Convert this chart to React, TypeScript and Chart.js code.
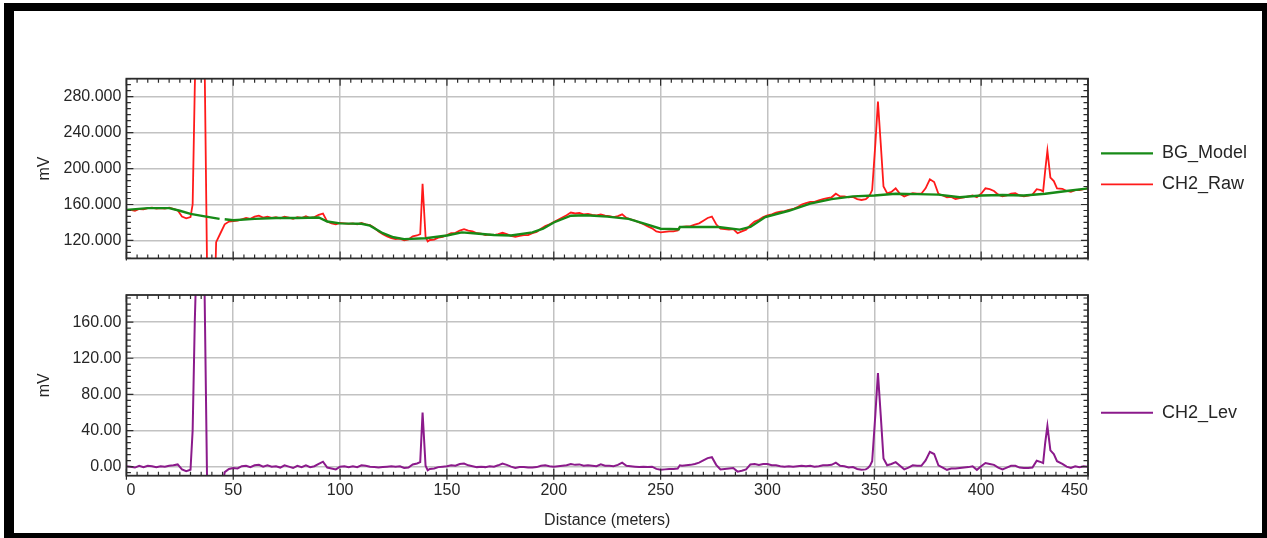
import React, { useEffect, useRef } from "react";
import { Chart, registerables } from "chart.js";

Chart.register(...registerables);

// ---------- data ----------
const DIST = [
  0, 2, 4, 6, 8, 10, 12, 14, 16, 18,
  20, 22, 24, 26, 28, 30, 31, 32, 34, 36,
  38, 40, 42, 44, 46, 48, 50, 52, 54, 56,
  58, 60, 62, 64, 66, 68, 70, 72, 74, 76,
  78, 80, 82, 84, 86, 88, 90, 92, 94, 96,
  98, 100, 102, 104, 106, 108, 110, 112, 114, 116,
  118, 120, 122, 124, 126, 128, 130, 132, 134, 136,
  137.5, 138.6, 140, 141, 142, 144, 146, 148, 150, 152,
  154, 156, 158, 160, 162, 164, 166, 168, 170, 172,
  174, 176, 178, 180, 182, 184, 186, 188, 190, 192,
  194, 196, 198, 200, 202, 204, 206, 208, 210, 212,
  214, 216, 218, 220, 222, 224, 226, 228, 230, 232,
  234, 236, 238, 240, 242, 244, 246, 248, 250, 252,
  254, 256, 258, 259, 260, 262, 264, 266, 268, 270,
  272, 274, 276, 278, 280, 282, 284, 286, 288, 290,
  292, 294, 296, 298, 300, 302, 304, 306, 308, 310,
  312, 314, 316, 318, 320, 322, 324, 326, 328, 330,
  332, 334, 336, 338, 340, 342, 344, 346, 347, 348,
  349, 350.5, 351.7, 353, 354.3, 356, 358, 360, 362, 364,
  366, 368, 370, 372, 374, 376, 378, 380, 382, 384,
  386, 388, 390, 392, 394, 396, 398, 400, 402, 404,
  406, 408, 410, 412, 414, 416, 418, 420, 422, 424,
  426, 428, 429, 430, 431, 432.4, 434, 435.5, 438, 440,
  442, 444, 446, 448, 450,
];

const CH2_RAW = [
  153.5, 154, 153, 155, 154.5, 156, 156.5, 155.5, 156, 155.5,
  156.5, 155, 153.5, 146.5, 144.5, 146, 160, 290, 480, 440,
  40, -60, 118, 128, 138, 141, 141.5, 142, 143.5, 145,
  144, 146.5, 147.5, 145.5, 146.5, 145, 146, 144.5, 146.5, 145.5,
  144, 146, 145, 147, 145, 146, 148.5, 150, 141, 139,
  138, 139.5, 139, 138.5, 139, 138, 139.5, 138, 137, 134,
  130, 127, 124.5, 122.5, 121.5, 122, 120, 121, 124.5, 125.5,
  127, 183, 124, 119, 120.5, 121, 123, 124, 126, 128,
  128.5, 131, 132.5, 131, 130, 128, 127.5, 126, 126.5, 126,
  127, 128.5, 127, 125, 124, 125, 126, 126, 128, 129.5,
  133, 136, 138, 140.5, 143, 145.5, 148, 151, 150, 150.5,
  149, 149.5, 148.5, 148, 149, 147.5, 147, 146, 147, 149,
  145, 143.5, 142, 140, 138, 135.5, 133.5, 130, 129, 129.5,
  130, 130, 131, 135, 135, 135.5, 136, 137.5, 139, 142,
  145, 146.5, 138, 133, 132.5, 132, 132.5, 128, 130, 132,
  137, 141, 143, 146, 148, 149, 151, 152, 152.5, 154,
  155, 157, 160, 161.5, 163, 163, 164.5, 166, 167, 168,
  172, 169, 169, 168, 168.5, 166, 165, 166, 168, 171,
  176, 228, 274.5, 228, 180, 172.5, 174, 178, 172, 169,
  171, 172.5, 172, 172, 178, 188, 185, 172, 170, 168,
  168.5, 166, 167, 168, 169, 170, 168, 172, 178, 177,
  175, 171, 169, 170, 172, 172.5, 170, 169, 170, 171,
  177, 176, 174.5, 198.5, 220, 190, 186, 178, 177.5, 175,
  174, 176, 176, 177, 178,
];

const CH2_LEV = [
  0.5, 0, -1, 1, -0.5, 1, 0.5, -0.5, 0.5, 0,
  1, 1.5, 2.5, -3, -5, -3.5, 40, 160, 330, 300,
  -60, -150, -100, -40, -6, -2.5, -1.5, -2, 0.5, 1,
  -0.5, 1.5, 2, 0, 1.5, 0, 0.5, -1, 1.5, 0,
  -1.5, 1, -0.5, 1.5, -0.5, 0.5, 3, 5.5, -1, -2,
  -3, 0, 0.5, -0.5, 0.5, -0.5, 1.5, 1, 0, -0.5,
  -1, -0.5, 0, 0.5, 0, 0.5, -1.5, -1, 2.5, 3.5,
  5, 60, 1, -4, -2.5, -2, -0.5, 0, 0.5, 1.5,
  1, 3, 3.5, 1.5, 0.5, -0.5, 0, -0.5, 0.5, 0,
  1.5, 3.5, 2, 0, -1.5, -0.5, -0.5, -1, -1, -0.5,
  1, 1.5, 0.5, 0, 0.5, 1, 1.5, 3, 2, 2.5,
  1, 1.5, 1, 0.5, 2.5, 1, 1, 0.5, 2, 4.5,
  1, 0.5, 0, -0.5, 0, -0.5, 0, -2.5, -3.5, -3,
  -2.5, -2.5, -2, 1.5, 1, 1.5, 2, 3, 4.5, 7,
  9.5, 10.5, 2, -3, -2.5, -2, -1.5, -5.5, -4.5, -3,
  2.5, 3, 2, 3, 3, 1.5, 1.5, 0.5, 0, 0.5,
  0, 0.5, 1, 0.5, 1, 0, 0.5, 1.5, 1.5, 2,
  4.5, 1, 0.5, -1, -0.5, -2.5, -3.5, -3, -1.5, 1,
  6, 58, 103.5, 57, 9, 1.5, 3, 5, 1, -3,
  -1, 1.5, 1, 1, 7, 16.5, 14, 1.5, -1, -3.5,
  -2, -2, -1.5, -1, -0.5, 0.5, -3.5, 0.5, 4, 3,
  2, -1, -3, -1, 1, 1, -1, -1.5, -1.5, -1,
  6.5, 5, 4, 27, 45, 18, 14, 6, 3, 0,
  -1.5, 0.5, -0.5, 0.5, 0,
];

const BG_DIST = [
  0, 10, 20, 25, 30, 36, 43.6, 44.8, 46, 50,
  60, 70, 80, 90, 94, 100, 110, 114, 120, 125,
  130, 140, 150, 157, 165, 172, 180, 190, 195, 200,
  208, 215, 225, 235, 242, 250, 258.5, 259, 277, 287,
  292, 299, 310, 320, 330, 340, 350, 360, 370, 380,
  390, 400, 410, 420, 430, 440, 450,
];

const BG_MODEL = [
  154, 156, 156, 153, 149.5, 147, 144, null, 143.5, 142.5,
  144, 145, 145, 145.5, 141, 139, 138.5, 136.5, 128, 123.5,
  121.5, 122.5, 125.5, 129, 127.5, 126, 125.5, 129, 133, 140,
  147.5, 148, 146.5, 144, 139, 133, 132.5, 135, 135, 132,
  135, 146, 153, 161, 166, 169, 170, 172, 171.5, 171,
  168, 170, 170.5, 170, 172, 175, 178,
];

const X_TICKS = [0, 50, 100, 150, 200, 250, 300, 350, 400, 450];
const TOP_Y_TICKS = [120, 160, 200, 240, 280];
const BOT_Y_TICKS = [0, 40, 80, 120, 160];

// ---------- styles ----------
const FONT = "'Liberation Sans', Arial, Helvetica, sans-serif";
const TEXT = "#262626";
const GRID = "#c2c2c2";
const FRAME = "#2b2b2b";
const GREEN = "#178a17";
const RED = "#ff1a1a";
const PURPLE = "#8b1a8b";
const LEGEND_W = 174;
const Y_WIDTH = 91.4;

const pairs = (xs: number[], ys: (number | null)[]) =>
  xs.map((x, i) => ({ x, y: ys[i] }));

// fixes the legend box width so both charts share the same plot width
const fixedLegend = {
  id: "fixedLegend",
  beforeLayout(chart: any) {
    const lg = chart.legend;
    if (lg && !lg.__fixed) {
      const orig = lg.fit.bind(lg);
      lg.fit = function () {
        orig();
        this.width = LEGEND_W;
      };
      lg.__fixed = true;
    }
  },
};

const frameTicks = {
  id: "frameTicks",
  afterDraw(chart: any, _args: any, opts: any) {
    const { ctx, chartArea: a, scales } = chart;
    const xs = scales.x;
    const ys = scales.y;
    ctx.save();
    ctx.strokeStyle = FRAME;
    ctx.lineWidth = 1.2;
    ctx.beginPath();
    const xStep = opts.xStep;
    for (let k = 0; xs.min + k * xStep <= xs.max + 1e-6; k++) {
      const v = xs.min + k * xStep;
      const px = xs.getPixelForValue(v);
      const major = k % opts.xSub === 0;
      const len = major ? 7 : 4;
      ctx.moveTo(px, a.bottom + (major ? opts.outward : 0));
      ctx.lineTo(px, a.bottom - len);
      ctx.moveTo(px, a.top);
      ctx.lineTo(px, a.top + len);
    }
    const yStep = opts.yMajor / opts.ySub;
    const kStart = Math.ceil((ys.min - opts.yBase) / yStep - 1e-6);
    for (let k = kStart; opts.yBase + k * yStep <= ys.max + 1e-6; k++) {
      const v = opts.yBase + k * yStep;
      const py = ys.getPixelForValue(v);
      const major = ((k % opts.ySub) + opts.ySub) % opts.ySub === 0;
      const len = major ? 7 : 4.5;
      ctx.moveTo(a.left, py);
      ctx.lineTo(a.left + len, py);
      ctx.moveTo(a.right, py);
      ctx.lineTo(a.right - len, py);
    }
    ctx.stroke();
    ctx.lineWidth = 1.8;
    ctx.strokeRect(a.left, a.top, a.right - a.left, a.bottom - a.top);
    ctx.restore();
  },
};

const legendOpts = {
  position: "right" as const,
  labels: {
    usePointStyle: true,
    pointStyle: "line",
    pointStyleWidth: 52,
    padding: 13,
    color: TEXT,
    font: { family: FONT, size: 18 },
  },
};

const yTitle = {
  display: true,
  text: "mV",
  color: TEXT,
  font: { family: FONT, size: 16 },
  padding: { top: 0, bottom: 0 },
};

const gridOpts = { color: GRID, lineWidth: 1.5, drawTicks: false };

function topConfig(): any {
  return {
    type: "line",
    data: {
      datasets: [
        {
          label: "BG_Model",
          data: pairs(BG_DIST, BG_MODEL),
          borderColor: GREEN,
          backgroundColor: GREEN,
          borderWidth: 2.4,
          pointRadius: 0,
          spanGaps: false,
          tension: 0,
        },
        {
          label: "CH2_Raw",
          data: pairs(DIST, CH2_RAW),
          borderColor: RED,
          backgroundColor: RED,
          borderWidth: 1.8,
          pointRadius: 0,
          tension: 0,
        },
      ],
    },
    options: {
      responsive: false,
      animation: false,
      events: [],
      layout: { padding: { left: 21, top: 67.7, right: 0, bottom: 14 } },
      scales: {
        x: {
          type: "linear",
          min: 0,
          max: 450,
          afterBuildTicks: (s: any) => {
            s.ticks = X_TICKS.map((v) => ({ value: v }));
          },
          afterFit: (s: any) => {
            s.height = 0;
          },
          ticks: { display: false },
          grid: gridOpts,
          border: { display: false },
        },
        y: {
          type: "linear",
          min: 100,
          max: 300,
          afterBuildTicks: (s: any) => {
            s.ticks = TOP_Y_TICKS.map((v) => ({ value: v }));
          },
          afterFit: (s: any) => {
            s.width = Y_WIDTH;
          },
          ticks: {
            callback: (v: any) => Number(v).toFixed(3),
            color: TEXT,
            font: { family: FONT, size: 16 },
            padding: 5,
          },
          grid: gridOpts,
          border: { display: false },
          title: yTitle,
        },
      },
      plugins: {
        legend: legendOpts,
        tooltip: { enabled: false },
        frameTicks: { xStep: 5, xSub: 10, yBase: 120, yMajor: 40, ySub: 6, outward: 2 },
      },
    },
    plugins: [fixedLegend, frameTicks],
  };
}

function bottomConfig(): any {
  return {
    type: "line",
    data: {
      datasets: [
        {
          label: "CH2_Lev",
          data: pairs(DIST, CH2_LEV),
          borderColor: PURPLE,
          backgroundColor: PURPLE,
          borderWidth: 2,
          pointRadius: 0,
          tension: 0,
        },
      ],
    },
    options: {
      responsive: false,
      animation: false,
      events: [],
      layout: { padding: { left: 21, top: 20, right: 0, bottom: 2.3 } },
      scales: {
        x: {
          type: "linear",
          min: 0,
          max: 450,
          afterBuildTicks: (s: any) => {
            s.ticks = X_TICKS.map((v) => ({ value: v }));
          },
          afterFit: (s: any) => {
            s.height = 55;
          },
          ticks: {
            align: "inner",
            color: TEXT,
            font: { family: FONT, size: 16 },
            padding: 5,
            maxRotation: 0,
          },
          grid: gridOpts,
          border: { display: false },
          title: {
            display: true,
            text: "Distance (meters)",
            color: TEXT,
            font: { family: FONT, size: 16 },
            padding: { top: 0, bottom: 1 },
          },
        },
        y: {
          type: "linear",
          min: -10,
          max: 190,
          afterBuildTicks: (s: any) => {
            s.ticks = BOT_Y_TICKS.map((v) => ({ value: v }));
          },
          afterFit: (s: any) => {
            s.width = Y_WIDTH;
          },
          ticks: {
            callback: (v: any) => Number(v).toFixed(2),
            color: TEXT,
            font: { family: FONT, size: 16 },
            padding: 5,
          },
          grid: gridOpts,
          border: { display: false },
          title: yTitle,
        },
      },
      plugins: {
        legend: legendOpts,
        tooltip: { enabled: false },
        frameTicks: { xStep: 5, xSub: 10, yBase: 0, yMajor: 40, ySub: 6, outward: 4 },
      },
    },
    plugins: [fixedLegend, frameTicks],
  };
}

function ChartCanvas(props: { make: () => any; left: number; top: number; width: number; height: number }) {
  const ref = useRef<HTMLCanvasElement>(null);
  useEffect(() => {
    const chart = new Chart(ref.current as HTMLCanvasElement, props.make());
    return () => chart.destroy();
  }, []);
  return (
    <canvas
      ref={ref}
      width={props.width}
      height={props.height}
      style={{
        position: "absolute",
        left: props.left,
        top: props.top,
        width: props.width,
        height: props.height,
        display: "block",
      }}
    />
  );
}

export default function App() {
  const bar = (l: number, t: number, w: number, h: number) => (
    <div style={{ position: "absolute", left: l, top: t, width: w, height: h, background: "#000" }} />
  );
  return (
    <div
      style={{
        position: "absolute",
        left: 0,
        top: 0,
        width: 1267,
        height: 538,
        background: "#fff",
        overflow: "hidden",
      }}
    >
      {bar(4, 3, 1263, 8)}
      {bar(4, 3, 10, 535)}
      {bar(1262, 3, 5, 535)}
      {bar(4, 533, 1263, 5)}
      <ChartCanvas make={topConfig} left={14} top={11} width={1248} height={262} />
      <ChartCanvas make={bottomConfig} left={14} top={275} width={1248} height={258} />
    </div>
  );
}
